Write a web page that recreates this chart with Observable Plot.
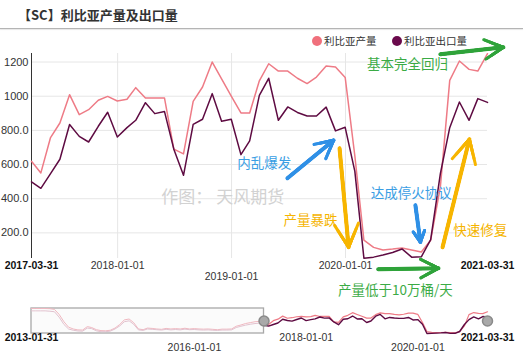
<!DOCTYPE html>
<html><head><meta charset="utf-8">
<script src="https://cdn.jsdelivr.net/npm/d3@7"></script>
<script src="https://cdn.jsdelivr.net/npm/@observablehq/plot@0.6"></script>
<style>
body{margin:0;width:529px;height:360px;position:relative;background:#fff;overflow:hidden;font-family:"Liberation Sans",Arial,sans-serif}
#title{position:absolute;left:18px;top:6px;font-size:13px;font-weight:bold;color:#333;font-family:"Noto Sans CJK SC",sans-serif;line-height:18px;white-space:nowrap}
#rule{position:absolute;left:0;top:28px;width:523px;height:1px;background:#b4b4b4;box-shadow:0 1px 1px #e4e4e4}
.lg{position:absolute;top:34px;font-size:10.5px;color:#333;font-family:"Noto Sans CJK SC",sans-serif;line-height:14px;white-space:nowrap}
.lg i{display:inline-block;width:10px;height:10px;border-radius:50%;vertical-align:-1px;margin-right:2px}
#main,#nav{position:absolute;left:0}
#main{top:0}
#nav{top:290px}
</style>
</head><body>
<div id="title">【SC】利比亚产量及出口量</div>
<div id="rule"></div>
<div class="lg" style="left:312px"><i style="background:#f0707c"></i>利比亚产量</div>
<div class="lg" style="left:392px"><i style="background:#6a0a4c"></i>利比亚出口量</div>
<div id="main"></div>
<div id="nav"></div>
<script>
// ---- data ----
const months = ["2017-03","2017-04","2017-05","2017-06","2017-07","2017-08","2017-09","2017-10","2017-11","2017-12",
"2018-01","2018-02","2018-03","2018-04","2018-05","2018-06","2018-07","2018-08","2018-09","2018-10","2018-11","2018-12",
"2019-01","2019-02","2019-03","2019-04","2019-05","2019-06","2019-07","2019-08","2019-09","2019-10","2019-11","2019-12",
"2020-01","2020-02","2020-03","2020-04","2020-05","2020-06","2020-07","2020-08","2020-09","2020-10","2020-11","2020-12",
"2021-01","2021-02","2021-03"];
const production = [619,551,758,843,1009,892,921,976,999,972,
 982,1050,990,990,990,690,662,970,1054,1200,
 1102,1001,902,902,1090,1190,1147,1147,1105,1074,
 1112,1177,1171,1110,650,157,115,100,105,112,
 100,88,157,469,1093,1206,1157,1147,1249];
const exports_ = [498,461,547,631,834,765,732,824,906,761,
 816,859,962,898,911,690,537,835,865,1015,
 853,865,658,738,1005,1105,859,937,905,884,
 884,936,797,818,560,52,58,70,85,106,
 58,60,160,547,816,966,859,986,964];

const navMonths = ["2013-01","2013-02","2013-03","2013-04","2013-05","2013-06","2013-07","2013-08","2013-09","2013-10","2013-11","2013-12",
"2014-01","2014-02","2014-03","2014-04","2014-05","2014-06","2014-07","2014-08","2014-09","2014-10","2014-11","2014-12",
"2015-01","2015-02","2015-03","2015-04","2015-05","2015-06","2015-07","2015-08","2015-09","2015-10","2015-11","2015-12",
"2016-01","2016-02","2016-03","2016-04","2016-05","2016-06","2016-07","2016-08","2016-09","2016-10","2016-11","2016-12",
"2017-01","2017-02"];
const navProduction = [1430,1430,1430,1430,1420,1380,1100,700,400,300,250,240,
 430,380,260,210,200,230,350,550,800,850,650,300,
 260,350,330,300,280,330,300,320,300,340,300,320,
 300,290,300,280,260,290,290,300,450,520,600,650,
 700,720];
const navExports = [1300,1300,1300,1300,1280,1250,950,550,300,230,190,180,
 350,320,200,150,150,180,300,470,700,750,560,250,
 220,300,280,260,240,280,250,270,250,290,260,270,
 250,240,250,230,220,240,240,250,380,450,510,560,
 600,620];

const yTicks = [200,400,600,800,1000,1200];
const yTickLabels = ["200.0","400.0","600.0","800.0","1000","1200"];
const gridDates = ["2018-01-01","2019-01-01","2020-01-01"];
const xTickDates = ["2017-03-31","2018-01-01","2019-01-01","2020-01-01","2021-03-31"];
const xTickRow = [0,0,1,0,0];
const xTickBold = [true,false,false,false,true];
const navTickDates = ["2013-01-31","2016-01-01","2018-01-01","2020-01-01","2021-03-31"];
const navTickRow = [0,1,0,1,0];
const navTickBold = [true,false,false,false,true];

const noteText = ["内乱爆发","产量暴跌","达成停火协议","快速修复","基本完全回归","产量低于10万桶/天"];
const noteDate = ["2019-04-16","2019-09-11","2020-07-30","2021-03-08","2020-07-18","2020-06-09"];
const noteValue = [607,274,431,210,1187,-136];
const noteColor = ["#3a9ee4","#f5b400","#3a9ee4","#f5b400","#3bab45","#3bab45"];

const arrowFromDate = ["2019-06-29","2019-12-13","2020-08-12","2020-11-07","2020-10-31","2020-04-15"];
const arrowFromValue = [520,695,362,116,1245,-13];
const arrowToDate = ["2019-11-24","2020-01-11","2020-08-28","2021-02-01","2021-05-21","2020-10-25"];
const arrowToValue = [742,116,146,748,1286,-7];
const arrowColor = ["#2f90e6","#f7b500","#2f90e6","#f7b500","#2fa33a","#2fa33a"];

const watermark = {text:"作图： 天风期货", date:"2018-05-21", value:408};

// ---- build ----
const monthEnd = s => { const [y,m] = s.split("-").map(Number); return new Date(Date.UTC(y, m, 0)); };
const D = s => new Date(s + "T00:00:00Z");
const fmt = d3.utcFormat("%Y-%m-%d");
const series = months.map((m,i)=>({date:monthEnd(m), prod:production[i], exp:exports_[i]}));
const navSeries = navMonths.map((m,i)=>({date:monthEnd(m), prod:navProduction[i], exp:navExports[i]})).concat([series[0]]);
const xt = xTickDates.map((d,i)=>({date:D(d), row:xTickRow[i], bold:xTickBold[i]}));
const nt = navTickDates.map((d,i)=>({date:D(d), row:navTickRow[i], bold:navTickBold[i]}));
const notes = noteText.map((t,i)=>({t, date:D(noteDate[i]), v:noteValue[i], c:noteColor[i]}));
const arrows = arrowColor.map((c,i)=>({x1:D(arrowFromDate[i]), y1:arrowFromValue[i], x2:D(arrowToDate[i]), y2:arrowToValue[i], c}));
const start = D("2017-03-31"), end = D("2021-03-31");
const PINK = "#ee7b86", DARK = "#5e0b42";
const cjk = "Noto Sans CJK SC, sans-serif";

const arrowMarks = [
  Plot.arrow(arrows, {x1:"x1", y1:"y1", x2:"x2", y2:"y2", stroke:"c", strokeWidth:4, headLength:0}),
  ...[13,10,7,4].map(L => Plot.arrow(arrows, {x1:"x1", y1:"y1", x2:"x2", y2:"y2", stroke:"c", strokeWidth:3, headLength:L, headAngle:55}))
];

const main = Plot.plot({
  width: 529, height: 300,
  marginLeft: 31, marginRight: 42, marginTop: 53, marginBottom: 42,
  x: {type:"utc", domain:[start,end], axis:null},
  y: {domain:[50,1250], axis:null},
  style: {fontFamily:"Liberation Sans, Arial, sans-serif", overflow:"visible", background:"transparent"},
  marks: [
    Plot.ruleY(yTicks, {stroke:"#e6e6e6"}),
    Plot.ruleX(gridDates.map(D), {stroke:"#e6e6e6"}),
    Plot.ruleX([start], {stroke:"#333", strokeWidth:1}),
    Plot.text(yTicks, {x:start, y:d=>d, text:(d,i)=>yTickLabels[i], textAnchor:"end", dx:-3, fontSize:11, fill:"#333"}),
    Plot.text([watermark], {x:d=>D(d.date), y:"value", text:"text", textAnchor:"start", fontSize:17, fill:"#d2d2d2", fontFamily:cjk}),
    Plot.line(series, {x:"date", y:"prod", stroke:PINK, strokeWidth:1.5}),
    Plot.line(series, {x:"date", y:"exp", stroke:DARK, strokeWidth:1.5}),
    ...xt.map(d=>Plot.text([d], {x:"date", frameAnchor:"bottom", dy:10.5 + d.row*11, text:d=>fmt(d.date), fontSize:10.5, fill: d.bold ? "#111" : "#333", fontWeight: d.bold ? "bold" : "normal"})),
    ...arrowMarks,
    Plot.text(notes, {x:"date", y:"v", text:"t", fill:"c", fontSize:13.5, fontFamily:cjk})
  ]
});
document.getElementById("main").appendChild(main);

const nav = Plot.plot({
  width: 529, height: 70,
  marginLeft: 31, marginRight: 42, marginTop: 18, marginBottom: 27,
  x: {type:"utc", domain:[D("2013-01-31"), end], axis:null},
  y: {domain:[50,1430], axis:null},
  style: {fontFamily:"Liberation Sans, Arial, sans-serif", overflow:"visible", background:"transparent"},
  marks: [
    Plot.rect([{a:D("2013-01-31"), b:start}], {x1:"a", x2:"b", fill:"#f7f7f7", fillOpacity:0.5, stroke:"#a8a8a8", strokeWidth:1.3}),
    Plot.line(navSeries, {x:"date", y:"prod", stroke:"#f0b8c0", strokeWidth:1}),
    Plot.line(navSeries, {x:"date", y:"exp", stroke:"#e2c2cf", strokeWidth:1}),
    Plot.line(series, {x:"date", y:"prod", stroke:PINK, strokeWidth:1.2}),
    Plot.line(series, {x:"date", y:"exp", stroke:DARK, strokeWidth:1.4}),
    Plot.dot([start, end], {x:d=>d, r:5, fill:"#a9a9a9", stroke:"#8a8a8a"}),
    ...nt.map(d=>Plot.text([d], {x:"date", frameAnchor:"bottom", dy:7.5 + d.row*9.5, text:d=>fmt(d.date), fontSize:10.5, fill: d.bold ? "#111" : "#333", fontWeight: d.bold ? "bold" : "normal"}))
  ]
});
document.getElementById("nav").appendChild(nav);
</script>
</body></html>
